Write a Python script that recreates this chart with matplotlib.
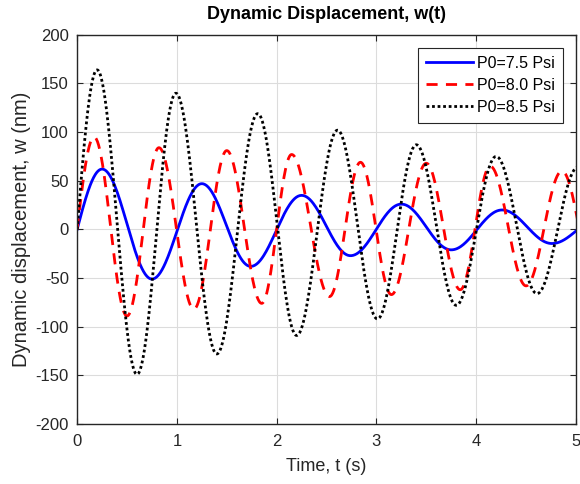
import numpy as np
import matplotlib
matplotlib.use("Agg")
import matplotlib.pyplot as plt

plt.rcParams['font.family'] = ['Liberation Sans', 'DejaVu Sans']
plt.rcParams['axes.unicode_minus'] = False

# turning points (time in s, displacement in nm)
t_75 = [0.0, 0.25, 0.75, 1.25, 1.74, 2.25, 2.74, 3.25, 3.75, 4.26, 4.76, 5.25]
w_75 = [0.0, 62, -51, 47, -38, 35, -27, 26, -21, 20, -14.5, 12]

t_80 = [0.0, 0.17, 0.50, 0.82, 1.17, 1.50, 1.85, 2.15, 2.53, 2.84, 3.15, 3.50, 3.84, 4.14, 4.50, 4.86, 5.20]
w_80 = [0.0, 95, -89, 84, -82, 81, -76, 77, -69, 69, -67, 68, -62, 65, -58, 60, -55]

t_85 = [0.0, 0.20, 0.60, 0.99, 1.40, 1.81, 2.20, 2.61, 3.01, 3.40, 3.80, 4.20, 4.61, 5.02]
w_85 = [0.0, 164, -149, 140, -128, 119, -109, 102, -92, 87, -78, 75, -66, 64]

labels = ['P0=7.5 Psi', 'P0=8.0 Psi', 'P0=8.5 Psi']


def smooth(tp, wp, n=60):
    # join the turning points with half-cosine arcs
    ts, ws = [], []
    for i in range(len(tp) - 1):
        s = np.linspace(0, 1, n)
        t = tp[i] + (tp[i + 1] - tp[i]) * s
        if i == 0 and wp[0] == 0:
            w = wp[1] * np.sin(np.pi / 2 * s)
        else:
            a, b = wp[i], wp[i + 1]
            w = (a + b) / 2 + (a - b) / 2 * np.cos(np.pi * s)
        ts.append(t)
        ws.append(w)
    return np.concatenate(ts), np.concatenate(ws)


fig = plt.figure(figsize=(5.8, 4.84), dpi=100)
ax = fig.add_axes([0.133, 0.124, 0.860, 0.804])

x, y = smooth(t_75, w_75)
ax.plot(x, y, color='#0000ff', lw=2, label=labels[0])
x, y = smooth(t_80, w_80)
ax.plot(x, y, color='#ff0000', lw=2, ls=(0, (4, 3)), label=labels[1])
x, y = smooth(t_85, w_85)
ax.plot(x, y, color='black', lw=2, ls=(0, (1, 1)), label=labels[2])

ax.set_xlim(0, 5)
ax.set_ylim(-200, 200)
ax.set_xticks(range(0, 6))
ax.set_yticks(range(-200, 201, 50))
ax.grid(True, color='#dcdcdc', lw=0.8)
ax.set_axisbelow(True)
ax.tick_params(direction='in', top=True, right=True, labelsize=12, length=4,
               colors='#262626')
ax.tick_params(axis='x', pad=7)
ax.tick_params(axis='y', pad=6)
for sp in ax.spines.values():
    sp.set_color('#262626')
    sp.set_linewidth(1)

ax.set_xlabel('Time, t (s)', size=13, color='#262626', labelpad=7)
ax.set_ylabel('Dynamic displacement, w (nm)', size=14.5, color='#262626',
              labelpad=3)
ax.set_title('Dynamic Displacement, w(t)', size=13, weight='bold', pad=11.5)

leg = ax.legend(loc='upper right', fontsize=11.5, fancybox=False, framealpha=1,
                edgecolor='#262626', handlelength=2.9, borderaxespad=0.8,
                handletextpad=0.3, labelspacing=0.45, borderpad=0.5)
leg.get_frame().set_linewidth(0.8)

fig.savefig('out.png', dpi=100)
